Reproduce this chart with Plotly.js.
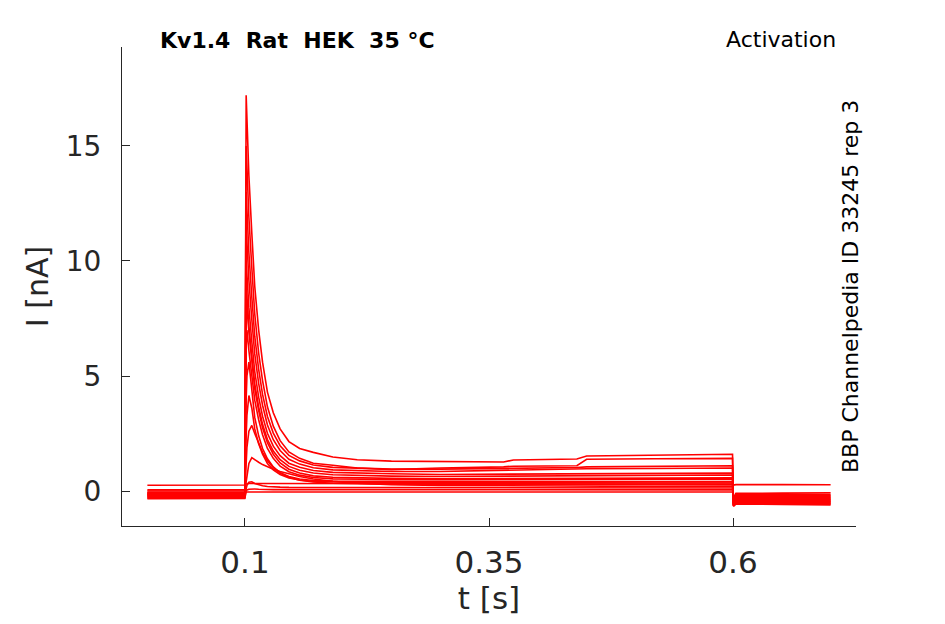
<!DOCTYPE html>
<html>
<head>
<meta charset="utf-8">
<script src="https://cdn.plot.ly/plotly-3.0.1.min.js"></script>
<style>html,body{margin:0;padding:0;background:#fff;}#plot{width:945px;height:624px;}</style>
</head>
<body>
<div id="plot"></div>
<script>
// time samples [s]
const tSec = [0, 0.0998, 0.1012, 0.102, 0.104, 0.107, 0.110, 0.114, 0.118, 0.123, 0.129, 0.136, 0.145, 0.156, 0.170, 0.190, 0.215, 0.25, 0.30, 0.365, 0.375, 0.44, 0.45, 0.52, 0.5995, 0.6005, 0.603, 0.65, 0.70];

// current sweeps [nA]
const sweep01 = [0.25, 0.26, 0.3, 0.32, 0.33, 0.33, 0.32, 0.32, 0.32, 0.31, 0.31, 0.31, 0.31, 0.31, 0.3, 0.3, 0.3, 0.3, 0.3, 0.3, 0.3, 0.3, 0.3, 0.3, 0.3, 0.26, 0.28, 0.28, 0.27];
const sweep02 = [-0.33, -0.32, -0.04, -0.04, -0.04, -0.04, -0.04, -0.04, -0.04, -0.04, -0.04, -0.04, -0.04, -0.04, -0.04, -0.04, -0.04, -0.04, -0.04, -0.04, -0.04, -0.04, -0.04, -0.04, -0.04, -0.3, -0.1, -0.09, -0.08];
const sweep03 = [-0.15, -0.15, 0.0, 0.05, 0.08, 0.1, 0.09, 0.08, 0.07, 0.07, 0.06, 0.06, 0.06, 0.06, 0.06, 0.05, 0.05, 0.05, 0.05, 0.05, 0.05, 0.05, 0.05, 0.05, 0.05, -0.35, -0.14, -0.15, -0.16];
const sweep04 = [-0.28, -0.28, 0.1, 0.25, 0.38, 0.4, 0.33, 0.27, 0.23, 0.2, 0.18, 0.17, 0.16, 0.16, 0.15, 0.15, 0.15, 0.15, 0.14, 0.14, 0.14, 0.13, 0.13, 0.13, 0.13, -0.4, -0.18, -0.19, -0.2];
const sweep05 = [0.05, 0.05, 0.4, 0.7, 1.2, 1.45, 1.38, 1.25, 1.15, 1.05, 0.95, 0.85, 0.74, 0.63, 0.52, 0.42, 0.34, 0.28, 0.24, 0.22, 0.22, 0.21, 0.21, 0.2, 0.2, -0.45, -0.22, -0.23, -0.24];
const sweep06 = [-0.22, -0.22, 1.2, 1.9, 2.6, 2.85, 2.5, 2.05, 1.68, 1.32, 1.02, 0.78, 0.6, 0.47, 0.39, 0.34, 0.31, 0.3, 0.29, 0.28, 0.28, 0.27, 0.27, 0.26, 0.26, -0.5, -0.26, -0.27, -0.28];
const sweep07 = [-0.08, -0.08, 2.4, 3.3, 4.15, 3.6, 2.7, 2.05, 1.6, 1.2, 0.92, 0.72, 0.57, 0.48, 0.42, 0.39, 0.38, 0.38, 0.37, 0.36, 0.36, 0.35, 0.35, 0.35, 0.35, -0.52, -0.3, -0.31, -0.31];
const sweep08 = [-0.18, -0.18, 4.0, 5.0, 5.6, 4.4, 3.2, 2.4, 1.85, 1.4, 1.05, 0.8, 0.63, 0.52, 0.46, 0.43, 0.42, 0.42, 0.41, 0.4, 0.4, 0.4, 0.4, 0.4, 0.4, -0.55, -0.33, -0.34, -0.35];
const sweep09 = [0.0, 0.0, 6.3, 7.0, 6.1, 4.95, 3.95, 3.1, 2.45, 1.85, 1.42, 1.08, 0.84, 0.69, 0.59, 0.53, 0.51, 0.5, 0.49, 0.5, 0.5, 0.5, 0.5, 0.5, 0.5, -0.55, -0.36, -0.37, -0.38];
const sweep10 = [-0.3, -0.3, 7.6, 8.0, 6.9, 5.6, 4.45, 3.5, 2.75, 2.1, 1.6, 1.22, 0.95, 0.78, 0.66, 0.6, 0.57, 0.55, 0.53, 0.54, 0.54, 0.56, 0.56, 0.57, 0.57, -0.6, -0.39, -0.4, -0.41];
const sweep11 = [-0.12, -0.12, 9.0, 8.42, 7.16, 5.83, 4.66, 3.66, 2.9, 2.24, 1.74, 1.36, 1.07, 0.9, 0.78, 0.71, 0.68, 0.65, 0.63, 0.65, 0.65, 0.68, 0.68, 0.69, 0.7, -0.6, -0.42, -0.43, -0.44];
const sweep12 = [-0.25, -0.24, 10.0, 9.35, 7.97, 6.49, 5.19, 4.08, 3.25, 2.51, 1.95, 1.54, 1.21, 1.03, 0.89, 0.81, 0.78, 0.75, 0.72, 0.74, 0.74, 0.76, 0.76, 0.77, 0.78, -0.62, -0.45, -0.46, -0.47];
const sweep13 = [-0.05, -0.06, 11.5, 10.75, 9.16, 7.45, 5.96, 4.68, 3.73, 2.87, 2.23, 1.76, 1.38, 1.17, 1.01, 0.92, 0.88, 0.85, 0.85, 0.9, 0.9, 0.95, 0.97, 0.98, 1.0, -0.62, -0.48, -0.49, -0.5];
const sweep14 = [-0.2, -0.2, 13.0, 12.16, 10.35, 8.42, 6.73, 5.29, 4.2, 3.24, 2.52, 1.97, 1.55, 1.31, 1.13, 1.03, 0.99, 0.95, 0.95, 0.98, 0.98, 1.02, 1.05, 1.08, 1.1, -0.65, -0.51, -0.52, -0.53];
const sweep15 = [-0.1, -0.1, 15.0, 14.0, 11.9, 9.7, 7.7, 6.0, 4.8, 3.66, 2.82, 2.19, 1.7, 1.42, 1.21, 1.12, 1.0, 0.93, 1.0, 1.05, 1.08, 1.1, 1.38, 1.4, 1.42, -0.65, -0.54, -0.55, -0.56];
const sweep16 = [-0.15, -0.12, 17.2, 16.1, 13.7, 11.2, 8.9, 7.0, 5.6, 4.3, 3.4, 2.7, 2.15, 1.85, 1.68, 1.48, 1.36, 1.3, 1.28, 1.26, 1.35, 1.39, 1.52, 1.56, 1.6, -0.66, -0.57, -0.58, -0.6];

const xTickVals = [0.1, 0.35, 0.6];
const xTickText = ['0.1', '0.35', '0.6'];
const yTickVals = [0, 5, 10, 15];
const yTickText = ['0', '5', '10', '15'];

const sweeps = [sweep01, sweep02, sweep03, sweep04, sweep05, sweep06, sweep07, sweep08,
                sweep09, sweep10, sweep11, sweep12, sweep13, sweep14, sweep15, sweep16];

const FONT = 'DejaVu Sans, Liberation Sans, sans-serif';
const INK = '#262626';

const traces = sweeps.map(function (ys) {
  return {
    x: tSec, y: ys, type: 'scatter', mode: 'lines',
    line: {color: '#ff0000', width: 1.6},
    hoverinfo: 'skip', showlegend: false
  };
});

const layout = {
  width: 945, height: 624,
  margin: {l: 122, r: 89, t: 47, b: 98, pad: 0},
  paper_bgcolor: '#ffffff', plot_bgcolor: '#ffffff',
  font: {family: FONT, color: INK},
  showlegend: false,
  xaxis: {
    range: [-0.026, 0.726], tickvals: xTickVals, ticktext: xTickText,
    ticks: 'inside', ticklen: 8, tickwidth: 1, tickcolor: INK,
    showline: true, linecolor: INK, linewidth: 1,
    showgrid: false, zeroline: false,
    tickfont: {family: FONT, size: 31, color: INK},
    ticklabelstandoff: 9,
    title: {text: 't [s]', font: {family: FONT, size: 31, color: INK}, standoff: 6},
    automargin: false
  },
  yaxis: {
    range: [-1.52, 19.3], tickvals: yTickVals, ticktext: yTickText,
    ticks: 'inside', ticklen: 8, tickwidth: 1, tickcolor: INK,
    showline: true, linecolor: INK, linewidth: 1,
    showgrid: false, zeroline: false,
    tickfont: {family: FONT, size: 28, color: INK},
    ticklabelstandoff: 14,
    title: {text: 'I [nA]', font: {family: FONT, size: 30, color: INK}, standoff: 8},
    automargin: false
  },
  annotations: [
    {text: '<b>Kv1.4\u00a0\u00a0Rat\u00a0\u00a0HEK\u00a0\u00a035\u00a0°C</b>', xref: 'paper', yref: 'paper',
     x: 0.049, y: 1.0146, xanchor: 'left', yanchor: 'middle', showarrow: false,
     font: {family: FONT, size: 22, color: '#000000'}},
    {text: 'Activation', xref: 'paper', yref: 'paper',
     x: 0.9755, y: 1.0167, xanchor: 'right', yanchor: 'middle', showarrow: false,
     font: {family: FONT, size: 22, color: '#000000'}},
    {text: 'BBP Channelpedia ID 33245 rep 3', xref: 'paper', yref: 'paper',
     x: 0.9918, y: 0.501, xanchor: 'center', yanchor: 'middle', textangle: -90, showarrow: false,
     font: {family: FONT, size: 22, color: '#000000'}}
  ]
};

Plotly.newPlot('plot', traces, layout, {displayModeBar: false, staticPlot: true});
</script>
</body>
</html>
